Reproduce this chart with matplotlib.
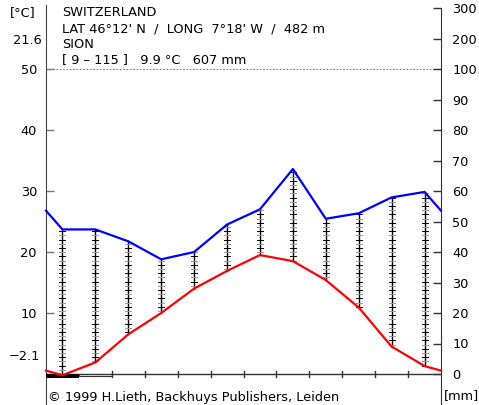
import numpy as np
import matplotlib
matplotlib.use("Agg")
import matplotlib.pyplot as plt

# Walter-Lieth climate diagram, Sion (Switzerland)
months = ["Jan", "Feb", "Mar", "Apr", "May", "Jun",
          "Jul", "Aug", "Sep", "Oct", "Nov", "Dec"]
temp = [-0.2, 1.9, 6.5, 10.0, 14.0, 16.9, 19.5, 18.5, 15.4, 10.9, 4.5, 1.3]
prec = [47.4, 47.4, 43.5, 37.6, 40.0, 49.0, 54.0, 67.2, 50.9, 52.7, 57.9, 59.7]

header = ["SWITZERLAND",
          "LAT 46°12' N  /  LONG  7°18' W  /  482 m",
          "SION",
          "[ 9 – 115 ]   9.9 °C   607 mm"]
left_ticks = [10, 20, 30, 40, 50]
right_ticks = [0, 10, 20, 30, 40, 50, 60, 70, 80, 90, 100, 200, 300]
tmax_warm = "21.6"
tmin_cold = "\u22122.1"
frost_sure = [0]      # months with certain frost (black bar)
frost_prob = [1]      # months with probable frost (open bar)

W, H = 479, 405
PX = 6.1          # pixels per degree C
Y0 = 374          # pixel row of 0 degC
FS = 9.3


def mm2t(p):
    p = np.asarray(p, dtype=float)
    return np.where(p <= 100, p / 2.0, 50 + (p - 100) / 20.0)


plt.rcParams['font.family'] = ['DejaVu Sans']
fig = plt.figure(figsize=(W / 100, H / 100), dpi=100)
ax = fig.add_axes([46 / W, 0, 395 / W, 1])
ax.set_xlim(0, 12)
ax.set_ylim(-(H - Y0) / PX, Y0 / PX)

x = np.arange(12) + 0.5
pt = mm2t(prec)
t = np.array(temp)

# wrap lines to the axis edges
xe = np.concatenate([[0], x, [12]])
te = np.concatenate([[(t[0] + t[-1]) / 2], t, [(t[0] + t[-1]) / 2]])
pe = np.concatenate([[(pt[0] + pt[-1]) / 2], pt, [(pt[0] + pt[-1]) / 2]])

# humid period hatching: vertical lines with small cross ticks
step = 4.2 / PX
for xi, ti, pi in zip(x, t, pt):
    if pi > ti:
        ax.plot([xi, xi], [max(ti, 0), pi], color='black', lw=1, zorder=2)
        k0 = int(np.ceil(max(ti, 0) / step))
        k1 = int(np.floor(pi / step))
        for k in range(k0, k1 + 1):
            c = 'black' if k % 2 == 0 else '#999999'
            ax.plot([xi - 0.09, xi + 0.09], [k * step, k * step],
                    color=c, lw=0.7, zorder=2)

ax.plot(xe, pe, color='#0000ff', lw=1.6, zorder=4, clip_on=False)
ax.plot(xe, te, color='#ff0000', lw=1.6, zorder=4, clip_on=False)

# 50 degC / 100 mm dotted reference
ax.plot([0, 12], [50, 50], color='#777777', lw=0.8, ls=(0, (1.5, 1.5)), zorder=1)

# bottom axis with month boundary marks
ax.plot([0, 12], [0, 0], color='#333333', lw=1, zorder=3)
for k in range(2, 12):
    ax.plot([k, k], [-0.45, 0.45], color='#333333', lw=1, zorder=3)

# frost bars
for m in frost_sure:
    ax.fill_between([m, m + 1], -0.6, 0, color='black', lw=0, zorder=3)
for m in frost_prob:
    ax.plot([m, m, m + 1, m + 1], [0, -0.35, -0.35, 0],
            color='#333333', lw=0.8, zorder=3)

# left axis
for s in ['top', 'bottom', 'right']:
    ax.spines[s].set_visible(False)
ax.spines['left'].set_bounds(-(H - Y0) / PX, 60.5)
ax.spines['left'].set_color('#444444')
ax.set_xticks([])
ax.set_yticks(left_ticks)
ax.set_yticklabels([str(v) for v in left_ticks])
ax.tick_params(axis='y', direction='in', length=5.8, width=1,
               colors='#777777', labelcolor='black', labelsize=FS, pad=6.5)

# right axis (precipitation)
ax2 = ax.twinx()
ax2.set_ylim(ax.get_ylim())
for s in ['top', 'bottom', 'left']:
    ax2.spines[s].set_visible(False)
ax2.spines['right'].set_bounds(-(H - Y0) / PX, 60)
ax2.spines['right'].set_color('#333333')
ax2.set_yticks(mm2t(right_ticks))
ax2.set_yticklabels([str(v) for v in right_ticks])
ax2.tick_params(axis='y', direction='in', length=5.8, width=1,
                colors='#333333', labelcolor='black', labelsize=FS, pad=8)


def px_text(px, py, s, **kw):
    fig.text(px / W, 1 - py / H, s, va='center', fontsize=FS, **kw)


px_text(10, 13, "[°C]")
px_text(42, 40, tmax_warm, ha='right')
px_text(40, 356, tmin_cold, ha='right')
for i, line in enumerate(header):
    px_text(62, [13, 29, 45, 60][i], line)
px_text(444, 396, "[mm]")
px_text(48, 397, "© 1999 H.Lieth, Backhuys Publishers, Leiden")

fig.savefig("out.png", dpi=100)
